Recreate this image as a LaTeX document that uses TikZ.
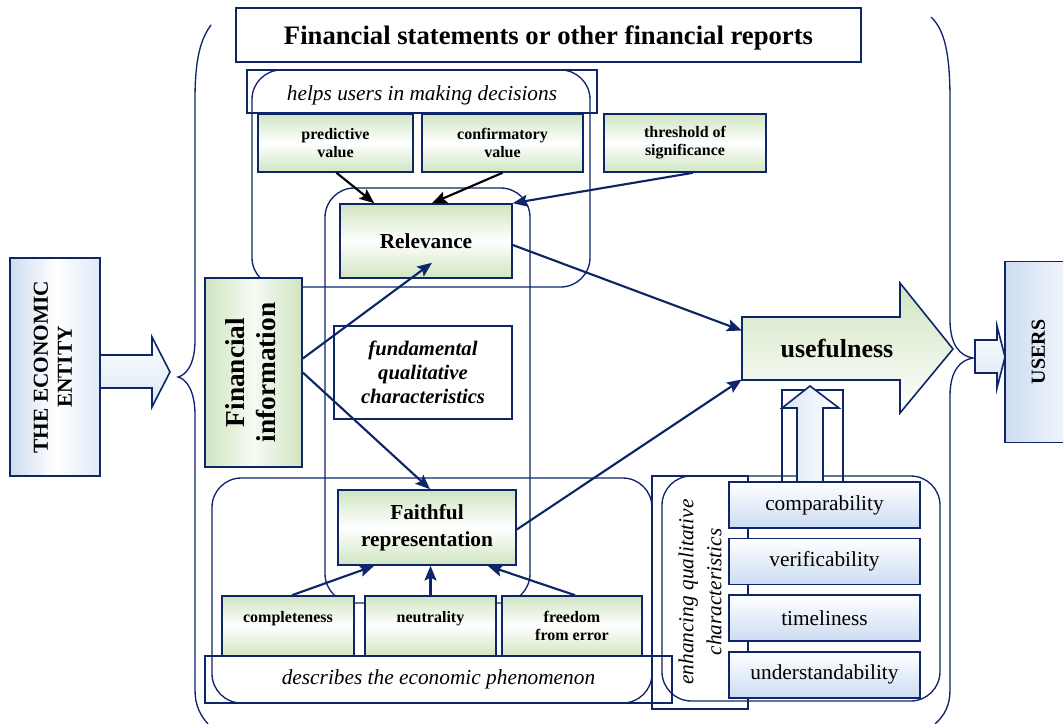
\documentclass[tikz,border=0pt]{standalone}
\usepackage{fontspec}
\setmainfont{Liberation Serif}
\usetikzlibrary{arrows.meta,positioning,calc}
\definecolor{navy}{RGB}{14,38,104}
\definecolor{gfill}{RGB}{208,229,193}
\definecolor{bfill}{RGB}{204,220,242}
\newcommand{\upright}[1]{\rotatebox{90}{\begin{tabular}{@{}c@{}}#1\end{tabular}}}
\tikzset{
  gbox/.style={draw=navy, line width=1.2pt, top color=gfill, bottom color=gfill, middle color=white,
    align=center, inner sep=1pt, font=\bfseries\fontsize{12}{13.5}\selectfont},
  bbox/.style={draw=navy, line width=1.2pt, top color=white, bottom color=bfill,
    minimum width=143pt, minimum height=34.5pt, inner sep=1pt, font=\fontsize{16}{18}\selectfont},
  frame/.style={draw=navy, line width=1pt},
  roundframe/.style={frame, rounded corners=22pt},
  hollow/.style={draw=navy, line width=1.2pt, top color=white, bottom color=bfill!70},
  link/.style={navy, line width=1.6pt, -{Stealth[length=11pt,width=9pt,inset=2pt]}},
  klink/.style={link, black},
}
\begin{document}
\begin{tikzpicture}[x=0.75pt,y=-0.75pt]
  \useasboundingbox (0,0) rectangle (1063,724);
  % Frames and braces
  \draw[roundframe] (252,70) rectangle (590,287);
  \draw[roundframe] (325,188) rectangle (530,603);
  \draw[roundframe] (212,478) rectangle (652,703);
  \draw[frame] (652,476) rectangle (748,709);
  \draw[roundframe] (662,476) rectangle (940,701);
  \draw[frame] (211,25) .. controls (200,40) and (195,60) .. (195,100) -- (195,340)
    .. controls (195,365) and (186,375) .. (178,377) .. controls (186,379) and (195,390) .. (195,415)
    -- (195,690) .. controls (195,705) and (200,715) .. (208,724);
  \draw[frame] (931,17) .. controls (945,30) and (950,55) .. (950,100) -- (950,320)
    .. controls (950,345) and (960,356) .. (973,358) .. controls (960,360) and (950,371) .. (950,396)
    -- (950,690) .. controls (950,705) and (945,715) .. (935,724);
  % Block arrows
  \draw[hollow] (100,355) -- (152,355) -- (152,337) -- (170,372) -- (152,407) -- (152,388) -- (100,388) -- cycle;
  \draw[hollow] (975,340) -- (997,340) -- (997,326) -- (1005,357) -- (997,388) -- (997,373) -- (975,373) -- cycle;
  \draw[frame, line width=1.2pt] (782,390) rectangle (843,482);
  \draw[hollow, left color=bfill!70, right color=white] (797,482) -- (797,408) -- (782,408) -- (810,386)
    -- (839,408) -- (823,408) -- (823,482) -- cycle;
  \draw[draw=navy, line width=1.2pt, top color=gfill, bottom color=white] (742,317) -- (900,317) -- (900,283)
    -- (953,349) -- (900,413) -- (900,380) -- (742,380) -- cycle;
  % Define nodes
  \node[frame, line width=1.2pt, minimum width=468.75pt, minimum height=40.5pt, text height=15pt, text depth=0pt,
    font=\bfseries\fontsize{20}{22}\selectfont] (report) at (548.5,35) {Financial statements or other financial reports};
  \node[frame, minimum width=262.5pt, minimum height=32.25pt, text height=12.8pt, text depth=0pt,
    font=\itshape\fontsize{16}{18}\selectfont] (helps) at (422,91.5) {helps users in making decisions};
  \node[gbox, minimum width=116.25pt, minimum height=43.5pt] (pred) at (335.5,143) {predictive\\value};
  \node[gbox, minimum width=120.75pt, minimum height=43.5pt] (conf) at (502.5,143) {confirmatory\\value};
  \node[gbox, minimum width=121.5pt, minimum height=43.5pt] (thresh) at (685,143) {threshold of\\significance};
  \node[gbox, minimum width=129pt, minimum height=55.5pt,
    font=\bfseries\fontsize{16}{20}\selectfont] (relev) at (426,241) {Relevance};
  \node[frame, line width=1.2pt, minimum width=133.5pt, minimum height=69.75pt, align=center,
    font=\bfseries\itshape\fontsize{15.5}{18}\selectfont] (fqc) at (423,372.5) {fundamental\\qualitative\\characteristics};
  \node[gbox, left color=gfill, right color=gfill, middle color=white!80!gfill,
    minimum width=72.75pt, minimum height=142pt,
    font=\bfseries\fontsize{20.5}{23.5}\selectfont] (fininfo) at (253.5,372.5) {\upright{Financial\\information}};
  \node[gbox, minimum width=133.5pt, minimum height=56.25pt,
    font=\bfseries\fontsize{16}{20}\selectfont] (faith) at (427,527.5) {Faithful\\representation};
  \node[gbox, minimum width=99pt, minimum height=45pt] (compl) at (288,626) {completeness\\\mbox{}};
  \node[gbox, minimum width=98.25pt, minimum height=45pt] (neut) at (430.5,626) {neutrality\\\mbox{}};
  \node[gbox, minimum width=105pt, minimum height=45pt] (free) at (572,626) {freedom\\from error};
  \node[frame, minimum width=350.25pt, minimum height=35.25pt,
    font=\itshape\fontsize{16}{18}\selectfont] (descr) at (438.5,679.5) {describes the economic phenomenon};
  \node[rotate=90, align=center, font=\itshape\fontsize{16}{21}\selectfont] (enh) at (700,592)
    {enhancing qualitative\\characteristics};
  \node[bbox] (comp) at (824.5,505) {comparability};
  \node[bbox, below=6.75pt of comp] (verif) {verificability};
  \node[bbox, below=6.75pt of verif] (timel) {timeliness};
  \node[bbox, below=6.75pt of timel] (under) {understandability};
  \node[minimum width=142.5pt, minimum height=47.25pt,
    font=\bfseries\fontsize{19.5}{22}\selectfont] (usef) at (837,348.5) {usefulness};
  \node[draw=navy, line width=1.2pt, left color=bfill, right color=white!85!bfill,
    minimum width=52.5pt, minimum height=136pt, font=\bfseries\fontsize{15}{18}\selectfont] (users)
    at (1040,352) {\upright{USERS}};
  \node[draw=navy, line width=1.2pt, left color=bfill, right color=bfill!60, middle color=white,
    minimum width=67.5pt, minimum height=163.5pt, font=\bfseries\fontsize{16}{18}\selectfont] (entity)
    at (55,367) {\upright{THE ECONOMIC\\ENTITY}};
  % Connect the nodes
  \draw[klink] ($(pred.south)+(1,0)$) -- ($(relev.north west)+(35,0)$);
  \draw[klink] (conf.south) -- ($(relev.north)+(6,0)$);
  \draw[link] ($(thresh.south)+(8,0)$) -- (relev.north east);
  \draw[link] ($(relev.east)+(0,4)$) -- ($(usef.west)+(0,-18)$);
  \draw[link] ($(faith.east)+(0,2)$) -- ($(usef.west)+(0,31)$);
  \draw[link] ($(fininfo.east)+(0,-14)$) -- ($(relev.south)+(6,-16)$);
  \draw[link] (fininfo.east) -- ($(faith.north)+(3,0)$);
  \draw[link] ($(compl.north)+(4,0)$) -- ($(faith.south west)+(37,0)$);
  \draw[link] (neut.north) -- (neut.north |- faith.south);
  \draw[link] ($(free.north)+(3,0)$) -- ($(faith.south east)+(-29,0)$);
\end{tikzpicture}
\end{document}
